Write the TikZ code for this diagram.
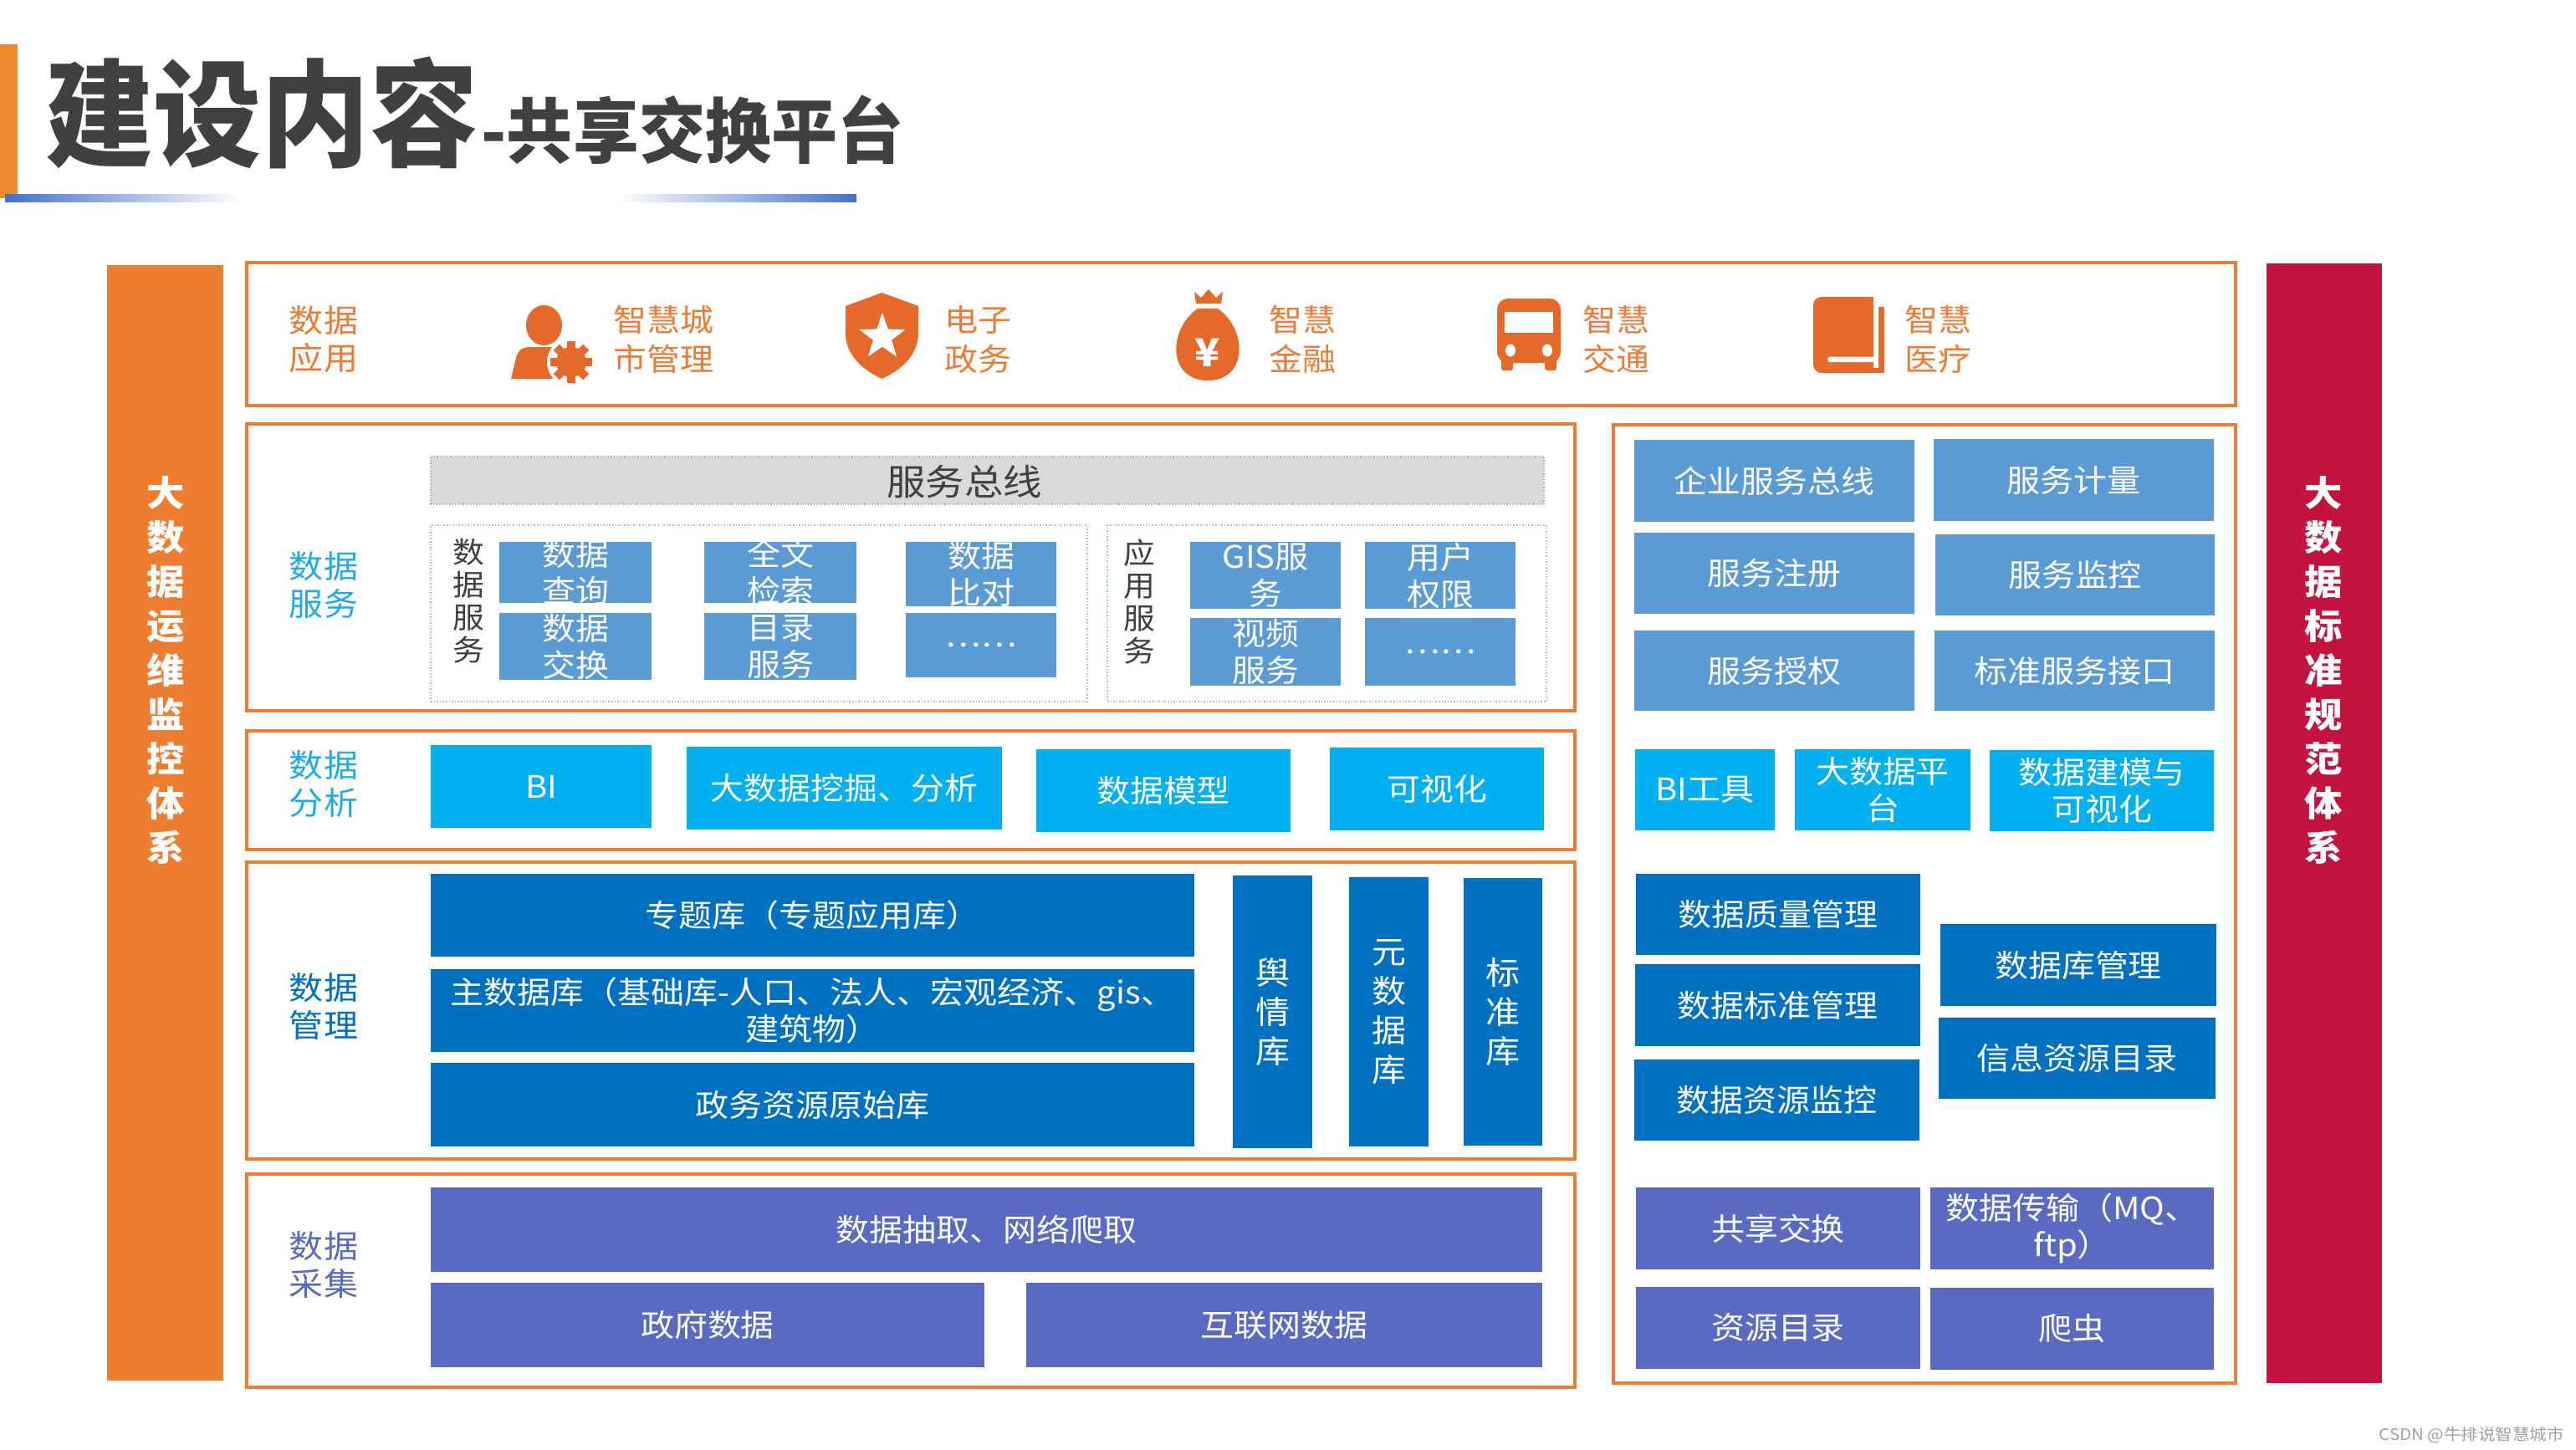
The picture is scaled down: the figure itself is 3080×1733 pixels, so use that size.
\documentclass[tikz,border=0pt]{standalone}
\usepackage{fontspec}
\setmainfont[FakeStretch=1.08]{Noto Sans CJK SC}
\newfontfamily\titlef[FakeStretch=0.93]{Noto Sans CJK SC}
\usetikzlibrary{shapes.geometric}
\definecolor{orgbar}{HTML}{ED7D31}
\definecolor{orgline}{HTML}{ED7D31}
\definecolor{iconc}{HTML}{E5692A}
\definecolor{apptxt}{HTML}{EB7B35}
\definecolor{crim}{HTML}{C41241}
\definecolor{svcblue}{HTML}{5B9BD5}
\definecolor{cyanb}{HTML}{00B0F0}
\definecolor{mgmt}{HTML}{0070C0}
\definecolor{coll}{HTML}{5A6AC2}
\definecolor{labcyan}{HTML}{1FAAE8}
\definecolor{titlec}{HTML}{404040}
\definecolor{gradc}{HTML}{4472C4}
\definecolor{grpline}{HTML}{9DC3E6}
\definecolor{busfill}{HTML}{D9D9D9}
\definecolor{busline}{HTML}{A6A6A6}
\definecolor{wmark}{HTML}{A0A0A0}
\newcommand\fs[2]{\fontsize{#1}{#2}\selectfont}
% name x1 y1 x2 y2 style text
\newcommand\bx[7]{%
  \node[bxs,#6,minimum width={#4pt-#2pt},minimum height={#5pt-#3pt}] (#1) at ({(#2+#4)/2},{(#3+#5)/2}) {};
  \node[boxtext] (#1t) at (#1.center) {#7};}
\newcommand\pn[6]{%
  \node[bxs,#6,minimum width={#4pt-#2pt},minimum height={#5pt-#3pt}] (#1) at ({(#2+#4)/2},{(#3+#5)/2}) {};}
\begin{document}
\begin{tikzpicture}[x=1pt,y=-1pt,
  bxs/.style={inner sep=0pt,outer sep=0pt,draw=none,rectangle},
  panel/.style={draw=orgline,line width=3.5pt},
  boxtext/.style={text=white,font=\fs{37}{44},align=center,inner sep=0pt},
  vtext/.style={text=white,font=\fs{38}{47},align=center,inner sep=0pt},
  lab/.style={font=\fs{38}{45},align=center,inner sep=0pt},
  apptext/.style={text=apptxt,font=\fs{37}{47},align=left,inner sep=0pt,anchor=west},
  grp/.style={draw=grpline,line width=1.6pt,dotted},
  bigv/.style={text=white,font=\bfseries\fs{42}{53},align=center,inner sep=0pt}
]
\useasboundingbox (0,0) rectangle (3080,1733);
\fill[white] (0,0) rectangle (3080,1733);

% ---------- title ----------
\fill[orgbar!90!yellow] (0,53) rectangle (21,237);
\shade[left color=gradc,right color=white] (6,232) rectangle (290,241);
\shade[left color=white,right color=gradc] (738,232) rectangle (1024,241);
\node[anchor=base west,inner sep=0pt,text=titlec,font=\titlef\bfseries\fs{139}{142}] (title) at (54,188) {建设内容};
\node[anchor=base west,inner sep=0pt,text=titlec,font=\titlef\bfseries\fs{85}{88}] (subtitle) at ([xshift=4pt]title.base east) {-共享交换平台};

% ---------- side bars ----------
\pn{lbar}{128}{317}{267}{1651}{fill=orgbar}
\node[bigv] (lbart) at (198,802) {大\\数\\据\\运\\维\\监\\控\\体\\系};
\pn{rbar}{2710}{315}{2848}{1654}{fill=crim}
\node[bigv] (rbart) at (2778,802) {大\\数\\据\\标\\准\\规\\范\\体\\系};

% ---------- panels ----------
\pn{app}{295}{314}{2673}{485}{panel}
\pn{svc}{295}{507}{1883}{850}{panel}
\pn{ana}{295}{874}{1883}{1016}{panel}
\pn{mgt}{295}{1031}{1883}{1386}{panel}
\pn{col}{295}{1404}{1883}{1659}{panel}
\pn{rgt}{1929}{508}{2673}{1654}{panel}

% ---------- row labels ----------
\node[lab,text=apptxt] (l1) at (387,406) {数据\\应用};
\node[lab,text=labcyan] (l2) at (387,700) {数据\\服务};
\node[lab,text=labcyan] (l3) at (387,938) {数据\\分析};
\node[lab,text=mgmt] (l4) at (387,1204) {数据\\管理};
\node[lab,text=coll] (l5) at (387,1512) {数据\\采集};

% ---------- data application icons ----------
% person + gear
\fill[iconc] (650.5,389) ellipse [x radius=21.5,y radius=24];
\fill[iconc] (611,453) -- (617,428) .. controls (620,418) and (625,415) .. (634,415) -- (664,415) -- (664,453) -- cycle;
\fill[white] (683,433) circle (29);
\fill[iconc] (683,433) circle (18);
\foreach \a in {0,45,...,315}{
  \fill[iconc,rotate around={\a:(683,433)}] (678,408) rectangle (688,420);}
\node[apptext] (a1) at (733,406) {智慧城\\市管理};
% shield
\fill[iconc] (1054.5,350) -- (1098,366) -- (1098,398) .. controls (1098,426) and (1076,443) .. (1054.5,453) .. controls (1033,443) and (1011,426) .. (1011,398) -- (1011,366) -- cycle;
\node[star,star points=5,star point ratio=2.5,fill=white,minimum size=58pt,inner sep=0pt] (star) at (1055,403) {};
\node[apptext] (a2) at (1129,406) {电子\\政务};
% money bag
\fill[iconc] (1428,349) -- (1436,356) -- (1445,346) -- (1454,356) -- (1462,349) -- (1460,363) -- (1430,363) -- cycle;
\fill[iconc] (1432,369) -- (1456,369) .. controls (1492,394) and (1492,455) .. (1444,455) .. controls (1396,455) and (1396,394) .. (1432,369) -- cycle;
\node[text=white,font=\bfseries\fs{46}{48},inner sep=0pt] (yen) at (1444,422) {¥};
\node[apptext] (a3) at (1517,406) {智慧\\金融};
% bus
\fill[iconc,rounded corners=13pt] (1790,357) rectangle (1866,434);
\fill[iconc,rounded corners=3pt] (1795,422) rectangle (1809,443);
\fill[iconc,rounded corners=3pt] (1847,422) rectangle (1861,443);
\fill[white] (1799,373) rectangle (1857,398);
\fill[white] (1806,419) ellipse [x radius=6,y radius=7.5];
\fill[white] (1850,419) ellipse [x radius=6,y radius=7.5];
\node[apptext] (a4) at (1892,406) {智慧\\交通};
% book
\fill[iconc,rounded corners=10pt] (2168,355) rectangle (2240,446);
\fill[iconc] (2215,355) rectangle (2240,446);
\fill[white,rounded corners=3pt] (2185,426.5) rectangle (2242,433);
\fill[iconc] (2245.5,367) rectangle (2253,446);
\fill[iconc] (2225,439.5) rectangle (2253,446);
\node[apptext] (a5) at (2277,406) {智慧\\医疗};

% ---------- data service ----------
\pn{sbus}{515}{546}{1846}{603}{fill=busfill,draw=busline,line width=1.2pt,dotted}
\node[text=titlec,font=\fs{43}{48},inner sep=0pt] (sbust) at (1153,576) {服务总线};
\pn{g1}{515}{628}{1300}{839}{grp}
\pn{g2}{1324}{628}{1849}{839}{grp}
\node[text=titlec,font=\fs{35}{39},align=center,inner sep=0pt] (g1t) at (560,719) {数\\据\\服\\务};
\node[text=titlec,font=\fs{35}{39},align=center,inner sep=0pt] (g2t) at (1362,720) {应\\用\\服\\务};
\bx{s1}{597}{648}{779}{721}{fill=svcblue}{数据\\查询}
\bx{s2}{597}{733}{779}{813}{fill=svcblue}{数据\\交换}
\bx{s3}{842}{648}{1024}{721}{fill=svcblue}{全文\\检索}
\bx{s4}{842}{733}{1024}{813}{fill=svcblue}{目录\\服务}
\bx{s5}{1083}{648}{1263}{725}{fill=svcblue}{数据\\比对}
\bx{s6}{1083}{733}{1263}{810}{fill=svcblue}{……}
\bx{s7}{1423}{648}{1603}{728}{fill=svcblue}{GIS服\\务}
\bx{s8}{1632}{648}{1812}{728}{fill=svcblue}{用户\\权限}
\bx{s9}{1423}{739}{1603}{820}{fill=svcblue}{视频\\服务}
\bx{s10}{1632}{739}{1812}{820}{fill=svcblue}{……}

% ---------- data analysis ----------
\bx{b1}{515}{891}{779}{990}{fill=cyanb}{BI}
\bx{b2}{821}{893}{1198}{992}{fill=cyanb}{大数据挖掘、分析}
\bx{b3}{1239}{896}{1543}{995}{fill=cyanb}{数据模型}
\bx{b4}{1590}{894}{1846}{993}{fill=cyanb}{可视化}

% ---------- data management ----------
\bx{m1}{515}{1045}{1428}{1144}{fill=mgmt}{专题库（专题应用库）}
\bx{m2}{515}{1159}{1428}{1258}{fill=mgmt}{主数据库（基础库-人口、法人、宏观经济、gis、\\建筑物）}
\bx{m3}{515}{1271}{1428}{1371}{fill=mgmt}{政务资源原始库}
\pn{m4}{1474}{1047}{1569}{1373}{fill=mgmt}
\node[vtext] (m4t) at (m4.center) {舆\\情\\库};
\pn{m5}{1613}{1049}{1708}{1371}{fill=mgmt}
\node[vtext] (m5t) at (m5.center) {元\\数\\据\\库};
\pn{m6}{1750}{1050}{1844}{1370}{fill=mgmt}
\node[vtext] (m6t) at (m6.center) {标\\准\\库};

% ---------- data collection ----------
\bx{c1}{515}{1420}{1844}{1521}{fill=coll}{数据抽取、网络爬取}
\bx{c2}{515}{1534}{1177}{1635}{fill=coll}{政府数据}
\bx{c3}{1227}{1534}{1844}{1635}{fill=coll}{互联网数据}

% ---------- right panel ----------
\bx{r1}{1954}{526}{2289}{624}{fill=svcblue}{企业服务总线}
\bx{r2}{2312}{525}{2647}{623}{fill=svcblue}{服务计量}
\bx{r3}{1954}{637}{2289}{734}{fill=svcblue}{服务注册}
\bx{r4}{2314}{639}{2648}{736}{fill=svcblue}{服务监控}
\bx{r5}{1954}{754}{2289}{850}{fill=svcblue}{服务授权}
\bx{r6}{2313}{754}{2648}{850}{fill=svcblue}{标准服务接口}
\bx{r7}{1955}{896}{2122}{993}{fill=cyanb}{BI工具}
\bx{r8}{2146}{896}{2356}{993}{fill=cyanb}{大数据平\\台}
\bx{r9}{2379}{897}{2647}{994}{fill=cyanb}{数据建模与\\可视化}
\bx{r10}{1956}{1045}{2296}{1142}{fill=mgmt}{数据质量管理}
\bx{r11}{1955}{1153}{2296}{1251}{fill=mgmt}{数据标准管理}
\bx{r12}{1954}{1267}{2295}{1364}{fill=mgmt}{数据资源监控}
\bx{r13}{2320}{1105}{2650}{1203}{fill=mgmt}{数据库管理}
\bx{r14}{2318}{1217}{2649}{1314}{fill=mgmt}{信息资源目录}
\bx{r15}{1956}{1420}{2296}{1518}{fill=coll}{共享交换}
\bx{r16}{2308}{1420}{2647}{1518}{fill=coll}{数据传输（MQ、\\ftp）}
\bx{r17}{1956}{1539}{2296}{1637}{fill=coll}{资源目录}
\bx{r18}{2308}{1540}{2647}{1638}{fill=coll}{爬虫}

% ---------- watermark ----------
\node[anchor=east,text=wmark,font=\fs{19}{21},inner sep=0pt] (wm) at (3066,1716) {CSDN @牛排说智慧城市};
\end{tikzpicture}
\end{document}
